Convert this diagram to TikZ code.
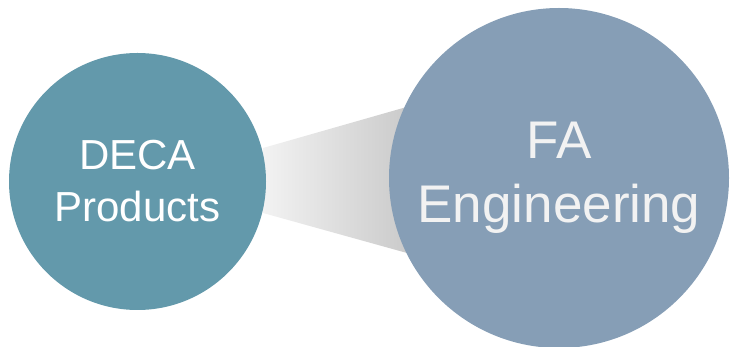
\documentclass[tikz,border=0pt]{standalone}
\usepackage{fontspec}
\setmainfont{Liberation Sans}
\usetikzlibrary{backgrounds,calc}
\definecolor{tealc}{HTML}{6399AB}
\definecolor{bluec}{HTML}{869EB6}
\definecolor{txtlight}{HTML}{F2F2F2}
\begin{document}
\begin{tikzpicture}[x=1pt,y=-1pt,
  bubble/.style={circle,inner sep=0pt,outer sep=0pt,align=center,draw=none}]
\useasboundingbox (0,0) rectangle (731,347);
\node[bubble,fill=tealc,minimum size=257pt,text=white,
  font=\fontsize{42}{52}\selectfont] (L) at (137.5,181.5) {DECA\\Products};
\node[bubble,fill=bluec,minimum size=340pt,text=txtlight,
  font=\fontsize{53}{64}\selectfont] (R) at (559,178) {FA\\Engineering};
\begin{scope}[on background layer]
\coordinate (lt) at ($(L.center)+(125.5,-33.5)$);
\coordinate (lb) at ($(L.center)+(125.5,31.5)$);
\coordinate (rt) at ($(R.center)+(-129,-77.7)$);
\coordinate (rb) at ($(R.center)+(-129,81.4)$);
\shade[left color=white!95!black,right color=black!23] (lt) -- (rt) -- (rb) -- (lb) -- cycle;
\end{scope}
\end{tikzpicture}
\end{document}
